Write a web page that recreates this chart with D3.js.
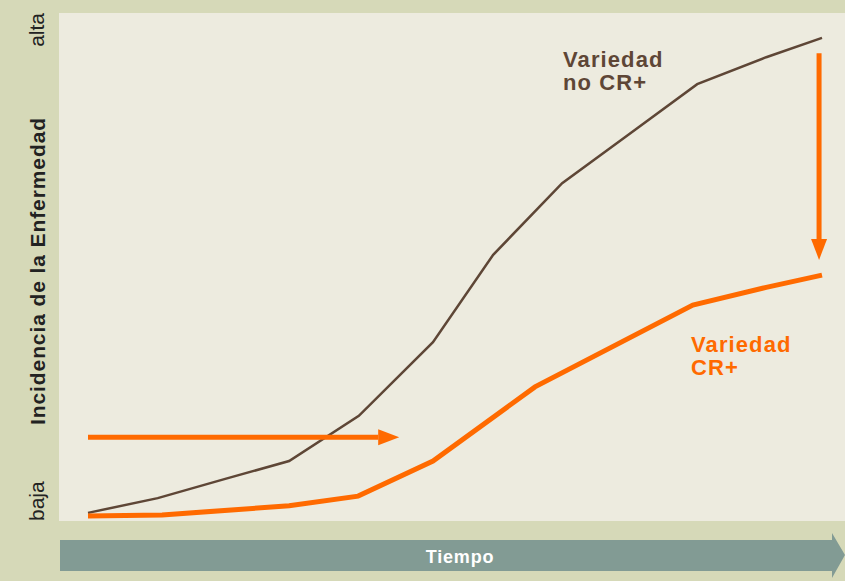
<!DOCTYPE html>
<meta charset="utf-8">
<style>
body { margin: 0; background: #d6d9b8; }
text { font-family: "Liberation Sans", Arial, sans-serif; }
</style>
<div id="chart"></div>
<script src="https://d3js.org/d3.v7.min.js"></script>
<script>
// time positions (0 = start, 10 = end) and incidence (0 = baja, 100 = alta)
var timeNoCR = [0, 0.95, 1.87, 2.74, 3.69, 4.70, 5.52, 6.46, 7.32, 8.30, 9.24, 10];
var valueNoCR = [1.6, 4.5, 8.3, 11.8, 20.7, 35.2, 52.4, 66.5, 75.6, 86.0, 91.3, 95.1];
var timeCR = [0, 1.01, 2.74, 3.68, 4.70, 6.09, 8.24, 9.24, 10];
var valueCR = [1.0, 1.2, 3.0, 4.9, 11.8, 26.4, 42.5, 46.0, 48.4];
// arrows: delay (horizontal) and reduction (vertical)
var delayArrow = [[0, 16.5], [4.24, 16.5]];
var reductionArrow = [[9.96, 92.1], [9.96, 51.4]];
var yTickLabels = ["baja", "alta"];

var W = 845, H = 581;
var svg = d3.select("#chart").append("svg")
    .attr("width", W).attr("height", H);

svg.append("rect").attr("width", W).attr("height", H).attr("fill", "#d6d9b8");
// plot panel
svg.append("rect")
    .attr("x", 59).attr("y", 13)
    .attr("width", W - 59).attr("height", 508)
    .attr("fill", "#edebdf");

var x = d3.scaleLinear().domain([0, 10]).range([88, 822]);
var y = d3.scaleLinear().domain([0, 100]).range([521, 13]);

var line = d3.line()
    .x(function(d) { return x(d[0]); })
    .y(function(d) { return y(d[1]); });

svg.append("path")
    .datum(d3.zip(timeNoCR, valueNoCR))
    .attr("d", line)
    .attr("fill", "none")
    .attr("stroke", "#5e4636")
    .attr("stroke-width", 2.5);

svg.append("path")
    .datum(d3.zip(timeCR, valueCR))
    .attr("d", line)
    .attr("fill", "none")
    .attr("stroke", "#ff6a00")
    .attr("stroke-width", 5);

// arrows
function arrow(pts) {
  var x0 = x(pts[0][0]), y0 = y(pts[0][1]), x1 = x(pts[1][0]), y1 = y(pts[1][1]);
  var ang = Math.atan2(y1 - y0, x1 - x0);
  var headLen = 21, headW = 8;
  var bx = x1 - headLen * Math.cos(ang), by = y1 - headLen * Math.sin(ang);
  svg.append("line")
      .attr("x1", x0).attr("y1", y0).attr("x2", bx).attr("y2", by)
      .attr("stroke", "#ff6a00").attr("stroke-width", 5);
  var px = -Math.sin(ang) * headW, py = Math.cos(ang) * headW;
  svg.append("path")
      .attr("d", "M" + x1 + "," + y1 + "L" + (bx + px) + "," + (by + py) +
                 "L" + (bx - px) + "," + (by - py) + "Z")
      .attr("fill", "#ff6a00");
}
arrow(delayArrow);
arrow(reductionArrow);

// series labels
function seriesLabel(lines, x0, y0, color) {
  var t = svg.append("text").attr("y", y0)
      .attr("fill", color)
      .style("font-size", "22px").style("font-weight", "bold")
      .style("letter-spacing", "1.1px");
  lines.forEach(function(s, i) {
    t.append("tspan").attr("x", x0).attr("dy", i ? 23 : 0).text(s);
  });
}
seriesLabel(["Variedad", "no CR+"], 563, 67, "#5e4636");
seriesLabel(["Variedad", "CR+"], 691, 352, "#ff6a00");

// y axis labels
svg.append("text")
    .attr("transform", "translate(44," + y(0) + ") rotate(-90)")
    .attr("text-anchor", "start")
    .attr("fill", "#222").style("font-size", "21px")
    .text(yTickLabels[0]);
svg.append("text")
    .attr("transform", "translate(44," + y(100) + ") rotate(-90)")
    .attr("text-anchor", "end")
    .attr("fill", "#222").style("font-size", "21px")
    .text(yTickLabels[1]);
svg.append("text")
    .attr("transform", "translate(45,271) rotate(-90)")
    .attr("text-anchor", "middle")
    .attr("fill", "#222").style("font-size", "21px").style("font-weight", "bold")
    .style("letter-spacing", "0.9px")
    .text("Incidencia de la Enfermedad");

// time arrow
svg.append("path")
    .attr("d", "M60,540 L832,540 L832,533 L845,555 L832,578 L832,571 L60,571 Z")
    .attr("fill", "#829b94");
svg.append("text")
    .attr("x", 460).attr("y", 563)
    .attr("text-anchor", "middle")
    .attr("fill", "#fff").style("font-size", "18px").style("font-weight", "bold")
    .style("letter-spacing", "0.8px")
    .text("Tiempo");
</script>
